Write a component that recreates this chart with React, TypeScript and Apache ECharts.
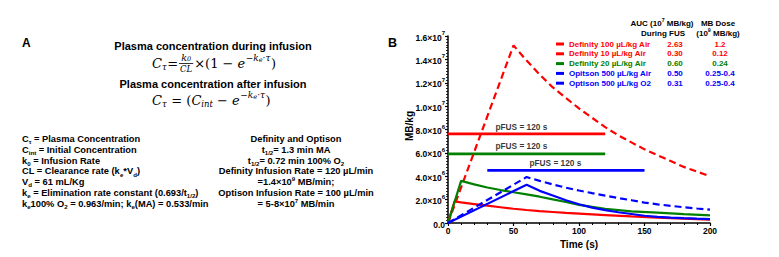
import React, { useEffect, useRef } from 'react';
import * as echarts from 'echarts';

const SANS = 'Liberation Sans';
const SERIF = 'DejaVu Serif';

// ---------- data ----------
const seriesNames = [
  'Definity 100 µL/kg Air',
  'Definity 10 µL/kg Air',
  'Definity 20 µL/kg Air',
  'Opitson 500 µL/kg Air',
  'Optison 500 µL/kg O2',
];
const seriesColors = ['#ff0000', '#ff0000', '#008000', '#0000ff', '#0000ff'];
const seriesDashed = [true, false, false, false, true];

const def100Time = [0, 50, 60, 70, 80, 90, 100, 110, 120, 130, 140, 150, 160, 170, 180, 190, 200];
const def100Val = [0, 15.2e6, 13.9e6, 12.7e6, 11.6e6, 10.7e6, 9.8e6, 9.0e6, 8.2e6, 7.5e6, 6.9e6, 6.3e6, 5.8e6, 5.3e6, 4.8e6, 4.4e6, 4.0e6];

const def10Time = [0, 5, 10, 20, 30, 40, 50, 60, 70, 80, 90, 100, 120, 140, 160, 180, 200];
const def10Val = [0, 1.85e6, 1.76e6, 1.62e6, 1.48e6, 1.35e6, 1.22e6, 1.11e6, 1.02e6, 0.94e6, 0.86e6, 0.8e6, 0.68e6, 0.56e6, 0.46e6, 0.37e6, 0.29e6];

const def20Time = [0, 10, 20, 30, 40, 50, 60, 70, 80, 90, 100, 120, 140, 160, 180, 200];
const def20Val = [0, 3.6e6, 3.3e6, 3.04e6, 2.82e6, 2.63e6, 2.45e6, 2.25e6, 2.02e6, 1.8e6, 1.55e6, 1.22e6, 1.0e6, 0.88e6, 0.76e6, 0.66e6];

const optAirTime = [0, 60, 70, 80, 90, 100, 110, 120, 130, 140, 150, 160, 170, 180, 190, 200];
const optAirVal = [0, 3.27e6, 2.75e6, 2.35e6, 1.95e6, 1.6e6, 1.32e6, 1.1e6, 0.92e6, 0.77e6, 0.62e6, 0.53e6, 0.46e6, 0.41e6, 0.37e6, 0.34e6];

const optO2Time = [0, 60, 70, 80, 90, 100, 110, 120, 130, 140, 150, 160, 170, 180, 190, 200];
const optO2Val = [0, 3.93e6, 3.6e6, 3.3e6, 3.02e6, 2.78e6, 2.55e6, 2.34e6, 2.14e6, 1.95e6, 1.75e6, 1.6e6, 1.47e6, 1.35e6, 1.24e6, 1.14e6];

const seriesTimes = [def100Time, def10Time, def20Time, optAirTime, optO2Time];
const seriesValues = [def100Val, def10Val, def20Val, optAirVal, optO2Val];

const aucValues = ['2.63', '0.30', '0.60', '0.50', '0.31'];
const doseValues = ['1.2', '0.12', '0.24', '0.25-0.4', '0.25-0.4'];

const pfusStart = [0, 0, 30];
const pfusEnd = [120, 120, 150];
const pfusLevel = [7.63e6, 5.92e6, 4.5e6];
const pfusColors = ['#ff0000', '#008000', '#0000ff'];
const pfusLabelX = [56, 56, 82];
const pfusLabelY = [8.25e6, 6.6e6, 5.1e6];
const pfusLabel = 'pFUS = 120 s';

// tick labels: [mantissa, exponent]
const yTickMantissa = ['0.0', '2.0×10', '4.0×10', '6.0×10', '8.0×10', '1.0×10', '1.2×10', '1.4×10', '1.6×10'];
const yTickExponent = ['', '6', '6', '6', '6', '7', '7', '7', '7'];
const xTickLabels = ['0', '50', '100', '150', '200'];

type Kind = 'n' | 'sub' | 'sup';
type Piece = [string, Kind];

const leftLines: Piece[][] = [
  [['C', 'n'], ['τ', 'sub'], [' = Plasma Concentration', 'n']],
  [['C', 'n'], ['int', 'sub'], [' = Initial Concentration', 'n']],
  [['k', 'n'], ['0', 'sub'], [' = Infusion Rate', 'n']],
  [['CL = Clearance rate (k', 'n'], ['e', 'sub'], ['*V', 'n'], ['d', 'sub'], [')', 'n']],
  [['V', 'n'], ['d', 'sub'], [' = 61 mL/Kg', 'n']],
  [['k', 'n'], ['e', 'sub'], [' = Elimination rate constant (0.693/t', 'n'], ['1/2', 'sub'], [')', 'n']],
  [['k', 'n'], ['e', 'sub'], ['100% O', 'n'], ['2', 'sub'], [' = 0.963/min; k', 'n'], ['e', 'sub'], ['(MA) = 0.533/min', 'n']],
];
const rightLines: Piece[][] = [
  [['Definity and Optison', 'n']],
  [['t', 'n'], ['1/2', 'sub'], ['= 1.3 min MA', 'n']],
  [['t', 'n'], ['1/2', 'sub'], ['= 0.72 min 100% O', 'n'], ['2', 'sub']],
  [['Definity Infusion Rate = 120 µL/min', 'n']],
  [['=1.4×10', 'n'], ['9', 'sup'], [' MB/min;', 'n']],
  [['Optison Infusion Rate = 100 µL/min', 'n']],
  [['= 5-8×10', 'n'], ['7', 'sup'], [' MB/min', 'n']],
];

// ---------- helpers ----------
let mctx: CanvasRenderingContext2D | null = null;
function measure(text: string, size: number, weight: string, style: string, family: string): number {
  if (!mctx) mctx = document.createElement('canvas').getContext('2d');
  if (!mctx) return text.length * size * 0.55;
  mctx.font = `${style} ${weight} ${size}px "${family}"`;
  return mctx.measureText(text).width;
}

function txt(x: number, y: number, text: string, size: number, o: any = {}) {
  const align = o.align || 'left';
  return {
    type: 'text',
    x,
    y,
    silent: true,
    rotation: o.rotation || 0,
    style: {
      text,
      fontSize: size,
      fontWeight: o.weight || 'normal',
      fontStyle: o.style || 'normal',
      fontFamily: o.family || SANS,
      fill: o.fill || '#000',
      textAlign: align,
      align,
      textVerticalAlign: 'middle',
      verticalAlign: 'middle',
    },
  };
}

function seqLine(x: number, y: number, pieces: Piece[], align: 'left' | 'center', size: number, fill = '#000') {
  const small = size * 0.66;
  const ws = pieces.map(([t, k]) => measure(t, k === 'n' ? size : small, 'bold', 'normal', SANS));
  const total = ws.reduce((a, b) => a + b, 0);
  let cx = align === 'center' ? x - total / 2 : x;
  const out: any[] = [];
  pieces.forEach(([t, k], i) => {
    const dy = k === 'sub' ? size * 0.3 : k === 'sup' ? -size * 0.35 : 0;
    out.push(txt(cx, y + dy, t, k === 'n' ? size : small, { weight: 'bold', fill }));
    cx += ws[i];
  });
  return out;
}

function formulaElements(): any[] {
  const els: any[] = [];
  const fs = 13;
  const sup = 9;
  const it = 'italic';
  const mk = (yBase: number, startX: number) => {
    let x = startX;
    const add = (t: string, size: number, dy: number, italic: boolean, extra = 0) => {
      els.push(txt(x, yBase + dy, t, size, { family: SERIF, style: italic ? it : 'normal' }));
      x += measure(t, size, 'normal', italic ? it : 'normal', SERIF) + extra;
    };
    return { add, getX: () => x, setX: (v: number) => (x = v) };
  };
  // formula 1
  {
    const y = 63;
    const f = mk(y, 152);
    f.add('C', fs, 0, true);
    f.add('τ', 8.5, 4, true, 0.5);
    f.add('=', fs, 0, false, 1);
    const x = f.getX();
    const kw = measure('k', 9.5, 'normal', it, SERIF);
    const zw = measure('0', 6.5, 'normal', it, SERIF);
    const clw = measure('CL', 8.5, 'normal', it, SERIF);
    const fw = Math.max(kw + zw, clw) + 2;
    const nx = x + (fw - kw - zw) / 2;
    els.push(txt(nx, y - 5.5, 'k', 9.5, { family: SERIF, style: it }));
    els.push(txt(nx + kw, y - 4, '0', 6.5, { family: SERIF, style: it }));
    els.push({ type: 'line', silent: true, shape: { x1: x, y1: y + 0.5, x2: x + fw, y2: y + 0.5 }, style: { stroke: '#000', lineWidth: 0.8 } });
    els.push(txt(x + (fw - clw) / 2, y + 6, 'CL', 8.5, { family: SERIF, style: it }));
    f.setX(x + fw + 1);
    f.add('×(1 − ', fs, 0, false);
    f.add('e', fs, 0, true, 0.5);
    f.add('−k', sup, -5.5, true);
    f.add('e', 6.5, -3.5, true);
    f.add('·τ', sup, -5.5, true, 0.5);
    f.add(')', fs, 0, false);
  }
  // formula 2
  {
    const f = mk(100, 152);
    f.add('C', fs, 0, true);
    f.add('τ', 8.5, 4, true, 0.5);
    f.add(' = (', fs, 0, false);
    f.add('C', fs, 0, true);
    f.add('int', 8.5, 4, true);
    f.add(' − ', fs, 0, false);
    f.add('e', fs, 0, true, 0.5);
    f.add('−k', sup, -5.5, true);
    f.add('e', 6.5, -3.5, true);
    f.add('·τ', sup, -5.5, true, 0.5);
    f.add(')', fs, 0, false);
  }
  return els;
}

function buildGraphics(): any[] {
  const els: any[] = [];
  els.push(txt(22, 43, 'A', 12, { weight: 'bold' }));
  els.push(txt(388, 43, 'B', 12.5, { weight: 'bold' }));
  els.push(txt(213, 46, 'Plasma concentration during infusion', 11, { weight: 'bold', align: 'center' }));
  els.push(txt(213, 83.5, 'Plasma concentration after infusion', 11, { weight: 'bold', align: 'center' }));
  els.push(...formulaElements());
  const rowY = [139, 149.8, 160.6, 171.4, 182.2, 193, 203.8];
  leftLines.forEach((ln, i) => els.push(...seqLine(22, rowY[i], ln, 'left', 9.3)));
  rightLines.forEach((ln, i) => els.push(...seqLine(296, rowY[i], ln, 'center', 9.3)));
  els.push(txt(409, 126, 'MB/kg', 10, { weight: 'bold', align: 'center', rotation: Math.PI / 2 }));
  els.push(...seqLine(662, 23, [['AUC (10', 'n'], ['7', 'sup'], [' MB/kg)', 'n']], 'center', 8));
  els.push(...seqLine(663, 33, [['During FUS', 'n']], 'center', 8));
  els.push(...seqLine(718, 23, [['MB Dose', 'n']], 'center', 8));
  els.push(...seqLine(718, 33, [['(10', 'n'], ['9', 'sup'], [' MB/kg)', 'n']], 'center', 8));
  const legY = [44, 53.8, 63.6, 73.4, 83.2];
  aucValues.forEach((v, i) => els.push(txt(675, legY[i], v, 8, { weight: 'bold', align: 'center', fill: seriesColors[i] })));
  doseValues.forEach((v, i) => els.push(txt(720, legY[i], v, 8, { weight: 'bold', align: 'center', fill: seriesColors[i] })));
  return els;
}

export default function App() {
  const ref = useRef<HTMLDivElement>(null);
  useEffect(() => {
    document.body.style.margin = '0';
    if (!ref.current) return;
    const chart = echarts.init(ref.current, undefined, { renderer: 'svg' });
    const lineSeries = seriesNames.map((name, i) => ({
      name,
      type: 'line',
      data: seriesTimes[i].map((t, j) => [t, seriesValues[i][j]]),
      showSymbol: false,
      symbol: 'none',
      color: seriesColors[i],
      itemStyle: { color: seriesColors[i] },
      lineStyle: { color: seriesColors[i], width: 2.2, type: seriesDashed[i] ? [7, 4] : 'solid' },
      z: 3,
      silent: true,
    }));
    const barSeries = pfusLevel.map((lvl, i) => ({
      name: 'pfus' + i,
      type: 'line',
      data: [[pfusStart[i], lvl], [pfusEnd[i], lvl]],
      showSymbol: false,
      symbol: 'none',
      color: pfusColors[i],
      lineStyle: { color: pfusColors[i], width: 2.8 },
      z: 2,
      silent: true,
    }));
    const labelSeries = {
      name: 'pfusLabels',
      type: 'scatter',
      data: pfusLabelX.map((x, i) => [x, pfusLabelY[i]]),
      symbolSize: 1,
      itemStyle: { color: 'rgba(0,0,0,0)' },
      label: {
        show: true,
        position: 'inside',
        formatter: () => pfusLabel,
        color: '#000',
        fontSize: 8.3,
        fontWeight: 'bold',
        fontFamily: SANS,
      },
      silent: true,
      z: 4,
    };
    const option: any = {
      animation: false,
      backgroundColor: '#ffffff',
      grid: { left: 448, right: 69, top: 36, bottom: 34, containLabel: false, outerBoundsMode: 'none' },
      legend: {
        data: seriesNames.map((n, i) => ({ name: n, textStyle: { color: seriesColors[i] } })),
        orient: 'vertical',
        left: 556,
        top: 39.1,
        icon: 'rect',
        itemWidth: 8,
        itemHeight: 3,
        itemGap: 0,
        padding: 0,
        selectedMode: false,
        textStyle: { fontSize: 8, fontWeight: 'bold', fontFamily: SANS, lineHeight: 9.8 },
      },
      xAxis: {
        type: 'value',
        min: 0,
        max: 200,
        interval: 50,
        axisLine: { show: true, onZero: false, lineStyle: { color: '#000', width: 1.5 } },
        axisTick: { show: true, length: 3, lineStyle: { color: '#000', width: 1.2 } },
        minorTick: { show: true, splitNumber: 5, length: 2, lineStyle: { color: '#000', width: 1 } },
        splitLine: { show: false },
        minorSplitLine: { show: false },
        axisLabel: {
          color: '#000',
          fontSize: 8.5,
          fontWeight: 'bold',
          fontFamily: SANS,
          margin: 3,
          formatter: (v: number) => xTickLabels[Math.round(v / 50)] ?? '',
        },
        name: 'Time (s)',
        nameLocation: 'middle',
        nameGap: 15,
        nameTextStyle: { fontSize: 10, fontWeight: 'bold', color: '#000', fontFamily: SANS },
      },
      yAxis: {
        type: 'value',
        min: 0,
        max: 1.6e7,
        interval: 2e6,
        axisLine: { show: true, onZero: false, lineStyle: { color: '#000', width: 1.5 } },
        axisTick: { show: true, length: 3, lineStyle: { color: '#000', width: 1.2 } },
        minorTick: { show: true, splitNumber: 8, length: 2, lineStyle: { color: '#000', width: 0.8 } },
        splitLine: { show: false },
        minorSplitLine: { show: false },
        axisLabel: {
          color: '#000',
          fontSize: 8.5,
          fontWeight: 'bold',
          fontFamily: SANS,
          margin: 3,
          formatter: (v: number) => {
            const i = Math.round(v / 2e6);
            const m = yTickMantissa[i] ?? '';
            const e = yTickExponent[i] ?? '';
            return e ? `{b|${m}}{s|${e}}` : `{b|${m}}`;
          },
          rich: {
            b: { fontSize: 8.5, fontWeight: 'bold', fontFamily: SANS, color: '#000', lineHeight: 12, verticalAlign: 'bottom' },
            s: { fontSize: 6, fontWeight: 'bold', fontFamily: SANS, color: '#000', lineHeight: 7, verticalAlign: 'top' },
          },
        },
      },
      graphic: { elements: buildGraphics() },
      series: [...barSeries, ...lineSeries, labelSeries],
    };
    chart.setOption(option);
    return () => chart.dispose();
  }, []);
  return <div ref={ref} style={{ width: 779, height: 257 }} />;
}
